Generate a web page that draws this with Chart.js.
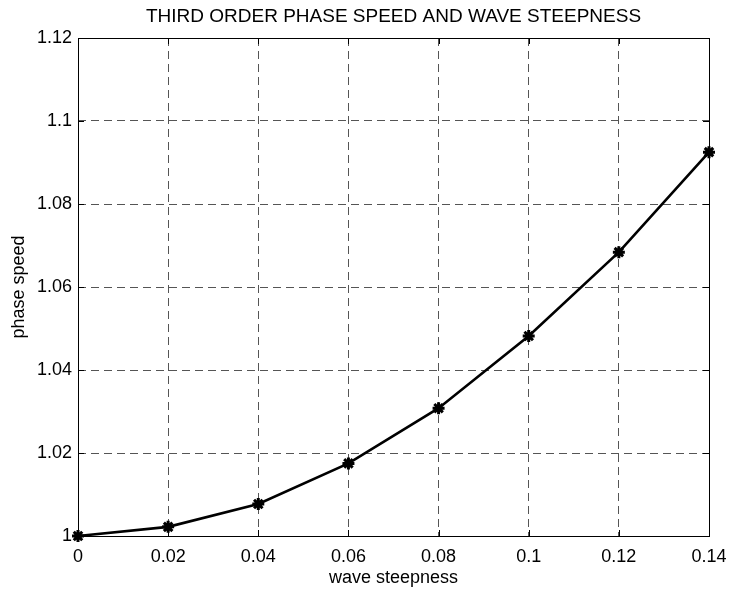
<!DOCTYPE html>
<html>
<head>
<meta charset="utf-8">
<script src="https://cdn.jsdelivr.net/npm/chart.js@4.4.1/dist/chart.umd.min.js"></script>
<style>
  html, body { margin: 0; padding: 0; background: #fff; }
  #wrap { width: 730px; height: 590px; }
</style>
</head>
<body>
<div id="wrap"><canvas id="phaseChart" width="730" height="590"></canvas></div>
<script>
// Data
const steepness = [0, 0.02, 0.04, 0.06, 0.08, 0.1, 0.12, 0.14];
const phaseSpeed = [1.0, 1.0022, 1.0077, 1.0175, 1.0308, 1.0482, 1.0684, 1.0925];
const xTicks = [0, 0.02, 0.04, 0.06, 0.08, 0.1, 0.12, 0.14];
const yTicks = [1, 1.02, 1.04, 1.06, 1.08, 1.1, 1.12];
const chartTitle = 'THIRD ORDER PHASE SPEED AND WAVE STEEPNESS';

const fontFamily = "'Liberation Sans', Arial, sans-serif";

// Box around the axes, inward tick marks and the title centred on the axes
const axesBox = {
    id: 'axesBox',
    afterDraw(chart) {
        const ctx = chart.ctx;
        const a = chart.chartArea;
        const xs = chart.scales.x, ys = chart.scales.y;
        ctx.save();
        ctx.strokeStyle = '#000';
        ctx.lineWidth = 1;
        ctx.setLineDash([]);
        ctx.strokeRect(a.left + 0.5, a.top + 0.5, a.right - a.left, a.bottom - a.top);
        ctx.beginPath();
        xTicks.forEach(v => {
            const px = Math.round(xs.getPixelForValue(v)) + 0.5;
            ctx.moveTo(px, a.bottom); ctx.lineTo(px, a.bottom - 6);
            ctx.moveTo(px, a.top); ctx.lineTo(px, a.top + 6);
        });
        yTicks.forEach(v => {
            const py = Math.round(ys.getPixelForValue(v)) + 0.5;
            ctx.moveTo(a.left, py); ctx.lineTo(a.left + 6, py);
            ctx.moveTo(a.right, py); ctx.lineTo(a.right - 6, py);
        });
        ctx.stroke();

        ctx.fillStyle = '#000';
        ctx.font = '19px ' + fontFamily;
        ctx.textAlign = 'center';
        ctx.textBaseline = 'alphabetic';
        ctx.fillText(chartTitle, (a.left + a.right) / 2, 22);
        ctx.restore();
    }
};

const chartData = {
    datasets: [{
        label: 'phase speed',
        data: steepness.map((x, i) => ({ x: x, y: phaseSpeed[i] })),
        borderColor: '#000',
        backgroundColor: '#000',
        borderWidth: 2.6,
        pointStyle: 'star',
        pointRadius: 6,
        pointBorderWidth: 3,
        pointBorderColor: '#000',
        tension: 0,
        clip: false
    }]
};

// grid lines at the edges would double the box, so hide them
const gridStyle = {
    color: c => (c.index === 0 || c.index === c.scale.ticks.length - 1) ? 'rgba(0,0,0,0)' : '#555',
    lineWidth: 1,
    drawTicks: false
};

const noPad = s => { s.paddingLeft = 0; s.paddingRight = 0; s.paddingTop = 0; s.paddingBottom = 0; };

const chartConfig = {
    type: 'line',
    data: chartData,
    options: {
        responsive: false,
        animation: false,
        layout: { padding: { left: 0, right: 21, top: 38, bottom: 0 } },
        plugins: {
            legend: { display: false },
            tooltip: { enabled: false },
            title: { display: false }
        },
        scales: {
            x: {
                type: 'linear',
                min: 0,
                max: 0.14,
                afterBuildTicks: s => { s.ticks = xTicks.map(v => ({ value: v })); },
                afterFit: s => { s.height = 54; noPad(s); },
                grid: gridStyle,
                border: { display: false, dash: [8, 5] },
                ticks: {
                    color: '#000',
                    padding: 10,
                    maxRotation: 0,
                    font: { family: fontFamily, size: 18 },
                    callback: v => String(parseFloat(v.toFixed(2)))
                },
                title: {
                    display: true,
                    text: 'wave steepness',
                    color: '#000',
                    font: { family: fontFamily, size: 18 },
                    padding: { top: 0, bottom: 1 }
                }
            },
            y: {
                type: 'linear',
                min: 1,
                max: 1.12,
                afterBuildTicks: s => { s.ticks = yTicks.map(v => ({ value: v })); },
                afterFit: s => { s.width = 78; noPad(s); },
                grid: gridStyle,
                border: { display: false, dash: [8, 5] },
                ticks: {
                    color: '#000',
                    padding: 6,
                    font: { family: fontFamily, size: 18 },
                    callback: v => String(parseFloat(v.toFixed(2)))
                },
                title: {
                    display: true,
                    text: 'phase speed',
                    color: '#000',
                    font: { family: fontFamily, size: 18 },
                    padding: { top: 8, bottom: 0 }
                }
            }
        }
    },
    plugins: [axesBox]
};

const phaseChart = new Chart(document.getElementById('phaseChart'), chartConfig);
</script>
</body>
</html>
